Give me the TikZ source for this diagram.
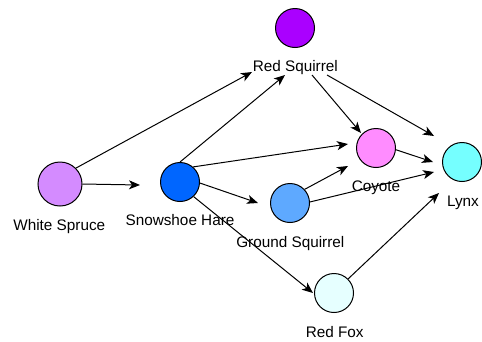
\documentclass[tikz,border=0pt]{standalone}
\usepackage{fontspec}
\setmainfont{Liberation Sans}
\usetikzlibrary{arrows.meta}

\definecolor{spruceC}{HTML}{D48BFF}
\definecolor{hareC}{HTML}{0066FF}
\definecolor{redsqC}{HTML}{AA00FF}
\definecolor{coyoteC}{HTML}{FF8CFF}
\definecolor{lynxC}{HTML}{75FFFF}
\definecolor{groundC}{HTML}{5EA9FF}
\definecolor{foxC}{HTML}{E6FFFF}

\begin{document}
\begin{tikzpicture}[x=1bp,y=-1bp,
  species/.style={circle,draw=black,line width=1bp,minimum size=39bp,inner sep=0pt},
  tag/.style={font=\fontsize{15.3bp}{18bp}\selectfont,inner sep=0pt,anchor=base,text=black},
  link/.style={draw=black,line width=1bp,-{Stealth[length=11bp,width=9bp,inset=3bp]}}]
\useasboundingbox (0,0) rectangle (482,341);

% species
\node[species,fill=spruceC,minimum size=44bp] (ws) at (60,184) {};
\node[species,fill=hareC] (hare) at (180,182) {};
\node[species,fill=redsqC] (rs) at (295,28) {};
\node[species,fill=coyoteC] (coy) at (376,148) {};
\node[species,fill=lynxC] (lynx) at (462,162) {};
\node[species,fill=groundC] (gs) at (290,203) {};
\node[species,fill=foxC] (fox) at (334,293) {};

% names
\node[tag] (wsl) at (59.3,230.5) {White Spruce};
\node[tag] (harel) at (180,225) {Snowshoe Hare};
\node[tag] (rsl) at (295.3,71.7) {Red Squirrel};
\node[tag] (coyl) at (376,191) {Coyote};
\node[tag] (lynxl) at (463,206) {Lynx};
\node[tag] (gsl) at (290.3,247.3) {Ground Squirrel};
\node[tag] (foxl) at (334.7,337.3) {Red Fox};

% connector ports
\coordinate (rsInA) at (252,72);
\coordinate (rsInB) at (285,75);
\coordinate (rsOutA) at (312,75);
\coordinate (rsOutB) at (327,75);
\coordinate (hareIn) at (140,185);
\coordinate (coyInA) at (348,144);
\coordinate (coyInB) at (361,133);
\coordinate (coyInC) at (348,166);
\coordinate (gsIn) at (258,203);
\coordinate (foxIn) at (313,293);
\coordinate (lynxInA) at (434,136);
\coordinate (lynxInB) at (433,162);
\coordinate (lynxInC) at (434,172);
\coordinate (lynxInD) at (439,193);

% feeding links
\draw[link] (ws.45) -- (rsInA);
\draw[link] (ws.east) -- (hareIn);
\draw[link] (hare.north) -- (rsInB);
\draw[link] (hare.49) -- (coyInA);
\draw[link] (hare.-3) -- (gsIn);
\draw[link] (hare.-47) -- (foxIn);
\draw[link] (rsOutA) -- (coyInB);
\draw[link] (rsOutB) -- (lynxInA);
\draw[link] (coy.-5) -- (lynxInB);
\draw[link] (gs.43) -- (coyInC);
\draw[link] (gs.3) -- (lynxInC);
\draw[link] (fox.45) -- (lynxInD);
\end{tikzpicture}
\end{document}
